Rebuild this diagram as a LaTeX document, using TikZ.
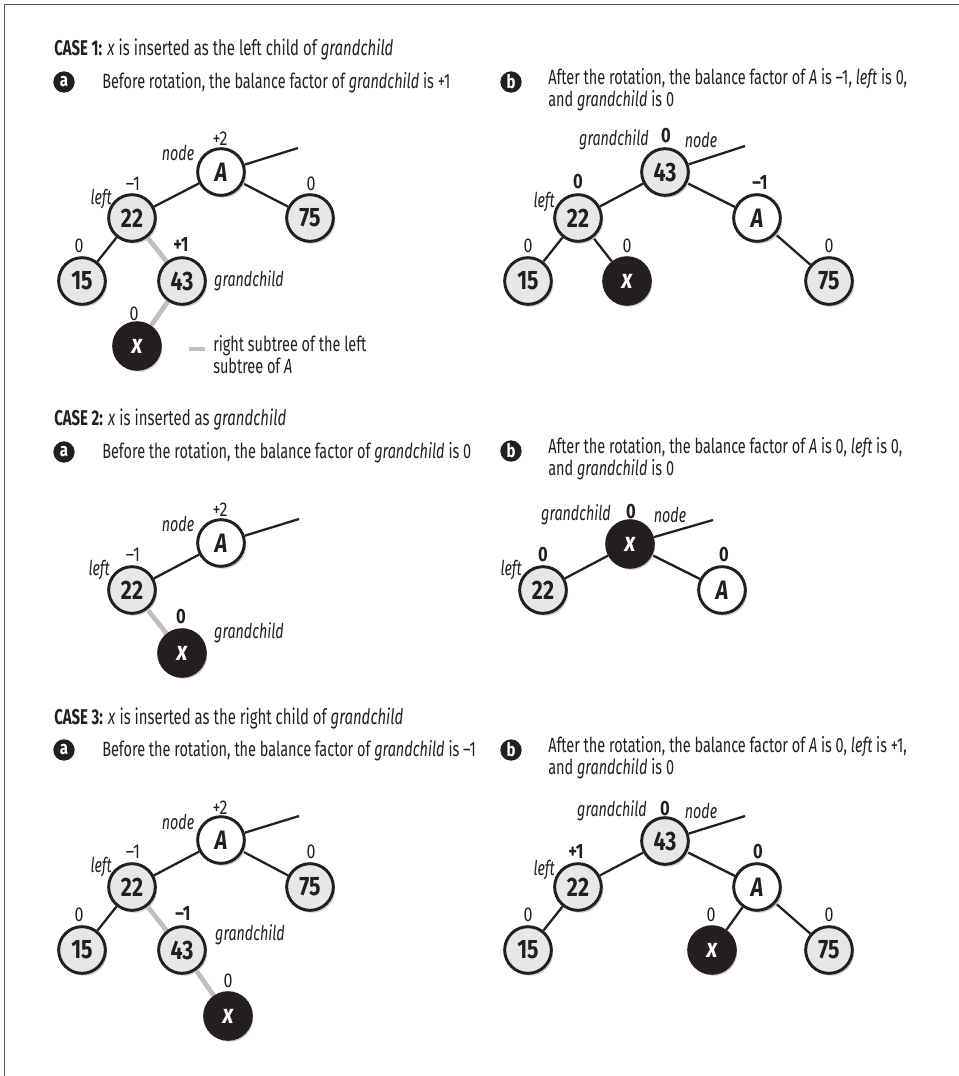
\documentclass[tikz,border=0pt]{standalone}
\usepackage{fontspec}
\setmainfont{Fira Sans}[FakeStretch=0.7]
\newfontfamily\treefont{Fira Sans}[FakeStretch=0.8]
\usetikzlibrary{shadows,backgrounds}
\definecolor{ink}{RGB}{35,31,32}
\definecolor{nodegray}{RGB}{230,231,232}
\definecolor{edgegray}{RGB}{190,191,193}
\definecolor{shadowgray}{RGB}{205,205,207}
\definecolor{framegray}{RGB}{85,85,85}
\tikzset{
  every node/.style={inner sep=0pt},
  tn/.style={circle, draw=ink, line width=2.2pt, minimum size=35pt, text=ink,
     font=\treefont\fontsize{20}{20}\selectfont\bfseries,
     drop shadow={shadow xshift=1.4pt, shadow yshift=-1.8pt, fill=shadowgray, opacity=1}},
  gnode/.style={tn, fill=nodegray},
  wnode/.style={tn, fill=white, font=\treefont\fontsize{20}{20}\selectfont\bfseries\itshape},
  bnode/.style={tn, fill=ink, text=white, font=\treefont\fontsize{20}{20}\selectfont\bfseries\itshape},
  bal/.style={font=\treefont\fontsize{15}{15}\selectfont, text=ink},
  balb/.style={font=\treefont\fontsize{15.5}{15.5}\selectfont\bfseries, text=ink},
  role/.style={font=\fontsize{15.3}{15.3}\selectfont\itshape, text=ink},
  edge/.style={draw=ink, line width=1.7pt},
  gedge/.style={draw=edgegray, line width=3.6pt},
  badge/.style={circle, fill=ink, text=white, minimum size=16pt, font=\treefont\fontsize{14}{14}\selectfont\bfseries},
  caption/.style={anchor=base west, align=left, text=ink, font=\fontsize{15.5}{13.5}\selectfont},
  casehead/.style={anchor=base west, text=ink, font=\fontsize{16}{16}\selectfont},
}
\begin{document}
\begin{tikzpicture}[x=0.75pt,y=-0.75pt]
\useasboundingbox (0,0) rectangle (959,1076);
\draw[framegray, line width=1.1pt] (4.5,1076) -- (4.5,4.5) -- (959,4.5);

% ---------------- CASE 1 ----------------
\node[casehead] (h1) at (54,55) {\textbf{CASE 1:} \textit{x} is inserted as the left child of \textit{grandchild}};
\node[badge] (ba1) at (64,82) {a};
\node[caption] (ta1) at (102,88) {Before rotation, the balance factor of \textit{grandchild} is +1};
\node[badge] (bb1) at (511,82) {b};
\node[caption] (tb1) at (548,106) {After the rotation, the balance factor of \textit{A} is –1, \textit{left} is 0,\\and \textit{grandchild} is 0};

% 1a tree
\node[wnode] (c1A) at (221,172) {A};
\node[gnode] (c1l) at (132,218) {22};
\node[gnode] (c1r) at (310,218) {75};
\node[gnode] (c1ll) at (82,281) {15};
\node[gnode] (c1g) at (182,281) {43};
\node[bnode] (c1x) at (137,346) {x};
\coordinate (c1up) at (298,148);
\begin{scope}[on background layer]
\draw[edge] (c1A) -- (c1up);
\draw[edge] (c1A) -- (c1l);
\draw[edge] (c1A) -- (c1r);
\draw[edge] (c1l) -- (c1ll);
\draw[gedge] (c1l) -- (c1g);
\draw[gedge] (c1g) -- (c1x);
\end{scope}
\node[bal] (c1Ab) at (220,139) {+2};
\node[role] (c1An) at (178,153) {node};
\node[bal] (c1lb) at (133,184) {–1};
\node[role, anchor=east] (c1ln) at (112,199) {left};
\node[bal] (c1rb) at (311,184) {0};
\node[bal] (c1llb) at (79,246) {0};
\node[balb] (c1gb) at (181,245) {+1};
\node[role] (c1gn) at (249,281) {grandchild};
\node[bal] (c1xb) at (134,314) {0};
% legend
\coordinate (lg1) at (189,349);
\coordinate (lg2) at (205,349);
\draw[gedge] (lg1) -- (lg2);
\node[caption] (lgt) at (213,373) {right subtree of the left\\subtree of \textit{A}};

% 1b tree
\node[gnode] (d1g) at (665,172) {43};
\node[gnode] (d1l) at (578,218) {22};
\node[wnode] (d1A) at (757,218) {A};
\node[gnode] (d1ll) at (528,281) {15};
\node[bnode] (d1x) at (627,281) {x};
\node[gnode] (d1r) at (829,281) {75};
\coordinate (d1up) at (745,146);
\begin{scope}[on background layer]
\draw[edge] (d1g) -- (d1up);
\draw[edge] (d1g) -- (d1l);
\draw[edge] (d1g) -- (d1A);
\draw[edge] (d1l) -- (d1ll);
\draw[edge] (d1l) -- (d1x);
\draw[edge] (d1A) -- (d1r);
\end{scope}
\node[role] (d1gn) at (614,140) {grandchild};
\node[balb] (d1gb) at (666,136) {0};
\node[role] (d1nn) at (701,140) {node};
\node[balb] (d1lb) at (578,182) {0};
\node[role, anchor=east] (d1ln) at (555,202) {left};
\node[balb] (d1Ab) at (760,183) {–1};
\node[bal] (d1llb) at (528,246) {0};
\node[bal] (d1xb) at (627,246) {0};
\node[bal] (d1rb) at (829,246) {0};

% ---------------- CASE 2 ----------------
\node[casehead] (h2) at (54,425) {\textbf{CASE 2:} \textit{x} is inserted as \textit{grandchild}};
\node[badge] (ba2) at (64,452) {a};
\node[caption] (ta2) at (102,458) {Before the rotation, the balance factor of \textit{grandchild} is 0};
\node[badge] (bb2) at (511,451) {b};
\node[caption] (tb2) at (548,475) {After the rotation, the balance factor of \textit{A} is 0, \textit{left} is 0,\\and \textit{grandchild} is 0};

% 2a tree
\node[wnode] (c2A) at (221,543) {A};
\node[gnode] (c2l) at (132,590) {22};
\node[bnode] (c2x) at (182,653) {x};
\coordinate (c2up) at (299,519);
\begin{scope}[on background layer]
\draw[edge] (c2A) -- (c2up);
\draw[edge] (c2A) -- (c2l);
\draw[gedge] (c2l) -- (c2x);
\end{scope}
\node[bal] (c2Ab) at (220,510) {+2};
\node[role] (c2An) at (178,524) {node};
\node[bal] (c2lb) at (133,555) {–1};
\node[role, anchor=east] (c2ln) at (110,570) {left};
\node[balb] (c2xb) at (181,617) {0};
\node[role] (c2xn) at (249,633) {grandchild};

% 2b tree
\node[bnode] (d2x) at (630,544) {x};
\node[gnode] (d2l) at (543,590) {22};
\node[wnode] (d2A) at (722,590) {A};
\coordinate (d2up) at (713,520);
\begin{scope}[on background layer]
\draw[edge] (d2x) -- (d2up);
\draw[edge] (d2x) -- (d2l);
\draw[edge] (d2x) -- (d2A);
\end{scope}
\node[role] (d2xn) at (576,515) {grandchild};
\node[balb] (d2xb) at (631,512) {0};
\node[role] (d2nn) at (670,515) {node};
\node[balb] (d2lb) at (543,555) {0};
\node[role, anchor=east] (d2ln) at (522,570) {left};
\node[balb] (d2Ab) at (724,555) {0};

% ---------------- CASE 3 ----------------
\node[casehead] (h3) at (54,724) {\textbf{CASE 3:} \textit{x} is inserted as the right child of \textit{grandchild}};
\node[badge] (ba3) at (64,750) {a};
\node[caption] (ta3) at (102,756) {Before the rotation, the balance factor of \textit{grandchild} is –1};
\node[badge] (bb3) at (511,750) {b};
\node[caption] (tb3) at (548,774) {After the rotation, the balance factor of \textit{A} is 0, \textit{left} is +1,\\and \textit{grandchild} is 0};

% 3a tree
\node[wnode] (c3A) at (221,840) {A};
\node[gnode] (c3l) at (132,887) {22};
\node[gnode] (c3r) at (310,887) {75};
\node[gnode] (c3ll) at (82,950) {15};
\node[gnode] (c3g) at (182,950) {43};
\node[bnode] (c3x) at (228,1016) {x};
\coordinate (c3up) at (299,816);
\begin{scope}[on background layer]
\draw[edge] (c3A) -- (c3up);
\draw[edge] (c3A) -- (c3l);
\draw[edge] (c3A) -- (c3r);
\draw[edge] (c3l) -- (c3ll);
\draw[gedge] (c3l) -- (c3g);
\draw[gedge] (c3g) -- (c3x);
\end{scope}
\node[bal] (c3Ab) at (220,808) {+2};
\node[role] (c3An) at (178,822) {node};
\node[bal] (c3lb) at (133,852) {–1};
\node[role, anchor=east] (c3ln) at (112,867) {left};
\node[bal] (c3rb) at (311,852) {0};
\node[bal] (c3llb) at (79,915) {0};
\node[balb] (c3gb) at (183,914) {–1};
\node[role] (c3gn) at (250,935) {grandchild};
\node[bal] (c3xb) at (228,981) {0};

% 3b tree
\node[gnode] (d3g) at (665,841) {43};
\node[gnode] (d3l) at (578,887) {22};
\node[wnode] (d3A) at (757,887) {A};
\node[gnode] (d3ll) at (528,950) {15};
\node[bnode] (d3x) at (712,950) {x};
\node[gnode] (d3r) at (829,950) {75};
\coordinate (d3up) at (745,816);
\begin{scope}[on background layer]
\draw[edge] (d3g) -- (d3up);
\draw[edge] (d3g) -- (d3l);
\draw[edge] (d3g) -- (d3A);
\draw[edge] (d3l) -- (d3ll);
\draw[edge] (d3A) -- (d3x);
\draw[edge] (d3A) -- (d3r);
\end{scope}
\node[role] (d3gn) at (612,811) {grandchild};
\node[balb] (d3gb) at (665,809) {0};
\node[role] (d3nn) at (701,811) {node};
\node[balb] (d3lb) at (576,852) {+1};
\node[role, anchor=east] (d3ln) at (555,870) {left};
\node[balb] (d3Ab) at (758,852) {0};
\node[bal] (d3llb) at (528,915) {0};
\node[bal] (d3xb) at (711,915) {0};
\node[bal] (d3rb) at (829,915) {0};
\end{tikzpicture}
\end{document}
